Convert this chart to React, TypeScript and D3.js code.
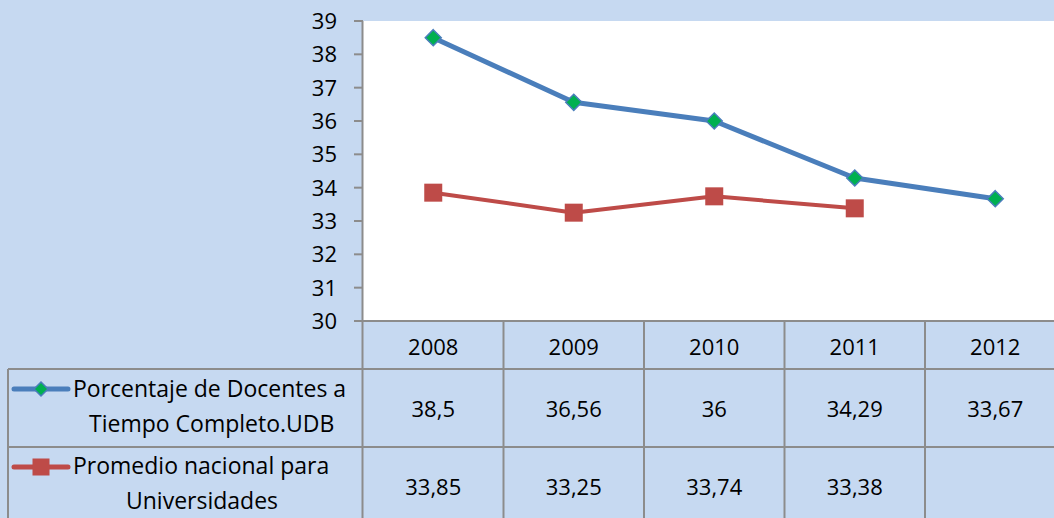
import React from "react";
import * as d3 from "d3";

const years = ["2008", "2009", "2010", "2011", "2012"];
const udbValues: (number | null)[] = [38.5, 36.56, 36, 34.29, 33.67];
const nationalValues: (number | null)[] = [33.85, 33.25, 33.74, 33.38, null];
const udbLabels = ["38,5", "36,56", "36", "34,29", "33,67"];
const nationalLabels = ["33,85", "33,25", "33,74", "33,38", ""];
const yTicks = [30, 31, 32, 33, 34, 35, 36, 37, 38, 39];

const W = 1054;
const H = 518;
const plot = { left: 363, right: 1065.5, top: 21, bottom: 321 };
const legendLeft = 8;
const rowBounds = [321, 369, 447, 526];

const BG = "#C6D9F1";
const GRID = "#8C8C8C";
const BLUE = "#4A7EBB";
const GREEN = "#00B050";
const RED = "#BE4B48";
const FONT = "'Open Sans', 'Liberation Sans', sans-serif";

const Diamond = ({ cx, cy, r }: { cx: number; cy: number; r: number }) => (
  <path
    d={`M${cx},${cy - r}L${cx + r},${cy}L${cx},${cy + r}L${cx - r},${cy}Z`}
    fill={GREEN}
    stroke={BLUE}
    strokeWidth={1.5}
  />
);

const Square = ({ cx, cy, s }: { cx: number; cy: number; s: number }) => (
  <rect x={cx - s / 2} y={cy - s / 2} width={s} height={s} fill={RED} />
);

export default function App() {
  const x = d3.scaleBand<string>().domain(years).range([plot.left, plot.right]);
  const y = d3.scaleLinear().domain([30, 39]).range([plot.bottom, plot.top]);
  const cx = (d: string) => (x(d) as number) + x.bandwidth() / 2;

  const line = d3
    .line<number | null>()
    .defined((d) => d !== null)
    .x((_, i) => cx(years[i]))
    .y((d) => y(d as number));

  const rowMid = (i: number) => (rowBounds[i] + rowBounds[i + 1]) / 2;

  return (
    <svg
      width={W}
      height={H}
      style={{ position: "absolute", left: 0, top: 0, fontFamily: FONT }}
    >
      <rect width={W} height={H} fill={BG} />
      <rect
        x={plot.left}
        y={plot.top}
        width={plot.right - plot.left}
        height={plot.bottom - plot.top}
        fill="#fff"
      />

      {/* y axis */}
      <line x1={plot.left - 0.5} x2={plot.left - 0.5} y1={plot.top} y2={H} stroke={GRID} strokeWidth={2} />
      {yTicks.map((t) => (
        <g key={t}>
          <line x1={plot.left - 9} x2={plot.left} y1={y(t)} y2={y(t)} stroke={GRID} strokeWidth={2} />
          <text x={plot.left - 26} y={y(t)} dy="0.36em" textAnchor="end" fontSize={22} fill="#000">
            {t}
          </text>
        </g>
      ))}

      {/* table grid */}
      <line x1={plot.left} x2={W} y1={plot.bottom} y2={plot.bottom} stroke={GRID} strokeWidth={2} />
      {rowBounds.slice(1, 3).map((b) => (
        <line key={b} x1={legendLeft} x2={W} y1={b} y2={b} stroke={GRID} strokeWidth={2} />
      ))}
      <line x1={legendLeft} x2={legendLeft} y1={rowBounds[1]} y2={H} stroke={GRID} strokeWidth={2} />
      {years.slice(1).map((yr) => (
        <line key={yr} x1={x(yr)} x2={x(yr)} y1={plot.bottom} y2={H} stroke={GRID} strokeWidth={2} />
      ))}

      {/* header + values */}
      {years.map((yr, i) => (
        <g key={yr} fontSize={22} textAnchor="middle" fill="#000">
          <text x={cx(yr)} y={rowMid(0) + 2} dy="0.36em">{yr}</text>
          <text x={cx(yr)} y={rowMid(1) + 1} dy="0.36em">{udbLabels[i]}</text>
          <text x={cx(yr)} y={rowMid(2) + 1} dy="0.36em">{nationalLabels[i]}</text>
        </g>
      ))}

      {/* legend */}
      <line x1={14} x2={68} y1={389} y2={389} stroke={BLUE} strokeWidth={5} strokeLinecap="round" />
      <Diamond cx={41} cy={389} r={7} />
      <text x={73} y={389} dy="0.36em" fontSize={23}>Porcentaje de Docentes a</text>
      <text x={89} y={424} dy="0.36em" fontSize={23}>Tiempo Completo.UDB</text>
      <line x1={14} x2={68} y1={467} y2={467} stroke={RED} strokeWidth={5} strokeLinecap="round" />
      <Square cx={41} cy={467} s={17} />
      <text x={73} y={466} dy="0.36em" fontSize={23}>Promedio nacional para</text>
      <text x={126} y={501} dy="0.36em" fontSize={23}>Universidades</text>

      {/* series */}
      <path d={line(nationalValues) || ""} fill="none" stroke={RED} strokeWidth={4} strokeLinejoin="round" />
      {nationalValues.map((v, i) =>
        v === null ? null : <Square key={i} cx={cx(years[i])} cy={y(v)} s={18} />
      )}
      <path d={line(udbValues) || ""} fill="none" stroke={BLUE} strokeWidth={5} strokeLinejoin="round" />
      {udbValues.map((v, i) =>
        v === null ? null : <Diamond key={i} cx={cx(years[i])} cy={y(v)} r={8} />
      )}
    </svg>
  );
}
